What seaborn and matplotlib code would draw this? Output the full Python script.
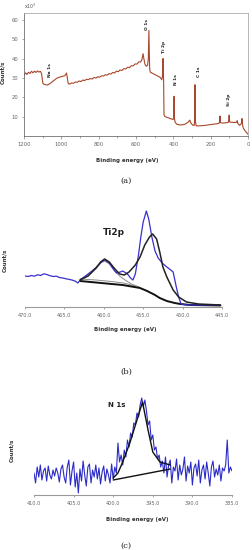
import numpy as np
import pandas as pd
import seaborn as sns
import matplotlib.pyplot as plt
from matplotlib.ticker import MultipleLocator

# (a) survey spectrum, binding energy (eV) vs counts (x10^3)
survey_be = [1200, 1192, 1184, 1176, 1168, 1160, 1152, 1144, 1136, 1128, 1120, 1112, 1106,
             1102, 1099, 1095, 1085, 1075, 1065, 1055, 1045, 1035, 1025, 1015, 1005, 995, 985,
             978, 972, 968, 963, 955, 945, 935, 925, 915, 905, 895, 885, 875, 865, 855, 845,
             835, 825, 815, 805, 795, 785, 775, 765, 755, 745, 735, 725, 715, 705, 695, 685,
             675, 665, 655, 645, 635, 625, 615, 605, 595, 585, 575, 568, 565, 562, 558, 552,
             545, 538, 534, 531, 529, 527, 524, 515, 505, 495, 485, 475, 468, 462, 458, 455,
             452, 450, 445, 440, 430, 420, 410, 402, 398, 396, 394, 390, 380, 370, 360, 350,
             340, 330, 320, 312, 305, 295, 288, 286, 284, 282, 278, 270, 250, 230, 210, 190,
             170, 155, 152, 150, 148, 140, 120, 106, 103, 101, 98, 90, 75, 62, 58, 55, 45, 35,
             32, 30, 25, 18, 10, 5, 2]
survey_counts = [31.5, 32.6, 31.8, 32.9, 32.3, 33.4, 32.6, 33.5, 32.8, 33.6, 33.0, 33.4, 32.2,
                 29.5, 27.3, 26.8, 26.5, 26.3, 26.8, 27.5, 28.3, 29, 29.8, 30.2, 30.5, 30.8,
                 31, 31.5, 32.5, 30, 27, 26.8, 27.4, 27.2, 27.9, 27.7, 28.4, 28.1, 28.9, 28.6,
                 29.3, 29.1, 29.7, 29.4, 30.2, 29.9, 30.6, 30.3, 31.1, 30.9, 31.6, 31.4, 32.2,
                 31.9, 32.8, 32.5, 33.5, 33.2, 34.1, 33.8, 34.8, 34.6, 35.5, 35.3, 36.3, 36.2,
                 37.2, 37.1, 38.3, 38.2, 39.6, 41, 42.5, 40, 37, 36, 36.5, 40, 54.5, 45, 35, 33,
                 32.5, 32, 31.5, 31, 30.5, 30, 29, 31, 40, 28, 11, 10, 9.8, 9.5, 9.2, 8.8, 8.5,
                 9, 20.5, 9, 7, 6, 5.8, 5.7, 5.8, 6, 6.5, 7.2, 8.2, 6.5, 5.5, 5.5, 8, 26.5, 8,
                 5.3, 5.2, 5.3, 5.5, 5.8, 6, 6.3, 6.5, 7.5, 10.3, 7, 6.7, 6.8, 7, 8.5, 10.8,
                 7.2, 7.1, 7, 7, 8, 6.5, 5.5, 6.5, 9, 6, 4, 3, 2, 1.5, 1]
peak_names = ["Na 1s", "O 1s", "Ti 2p", "N 1s", "C 1s", "Si 2p"]
peak_be = [1061, 539, 450, 387, 262, 102]
peak_y = [34, 57.5, 46, 29, 33, 18.6]

# (b) Ti2p high-resolution spectrum
ti_be = [470.0, 469.6, 469.2, 468.8, 468.4, 468.0, 467.6, 467.2, 466.8, 466.4, 466.0, 465.6,
         465.2, 464.8, 464.4, 464.0, 463.6, 463.3, 463.0, 462.5, 462.0, 461.5, 460.9, 460.3,
         459.9, 459.3, 458.8, 458.4, 457.9, 457.6, 457.0, 456.6, 456.3, 456.0, 455.6, 455.3,
         455.0, 454.6, 454.3, 453.9, 453.5, 453.1, 452.6, 452.0, 451.5, 451.2, 450.8, 450.5,
         450.2, 449.5, 447.0, 445.2]
ti_counts = [31, 30.5, 31.5, 30.8, 32.2, 31.6, 33.2, 32.4, 31.2, 30.5, 30.8, 29.4, 29.0, 28.2,
             27.6, 26.9, 25.8, 24, 27, 30, 33, 36, 40, 45, 47, 44, 38, 34, 35, 36, 33, 29, 27,
             33, 52, 70, 85, 96, 88, 70, 56, 49, 44, 40, 37, 35, 20, 10, 3, 2, 2, 2]
ti_fit_be = [463.0, 462.0, 461.0, 460.4, 459.9, 459.3, 458.7, 458.0, 457.4, 456.8, 456.0,
             455.4, 454.8, 454.2, 453.8, 453.3, 452.9, 452.5, 452.0, 451.2, 450.5, 449.5,
             448.0, 445.2]
ti_fit = [27, 31, 39, 45, 48, 45, 39, 33, 32, 35, 42, 50, 62, 70, 73, 68, 55, 40, 30, 17, 10,
          5, 3, 2]
ti_bg_be = [463.0, 461.0, 459.0, 457.6, 456.5, 455.4, 454.5, 453.5, 452.9, 452.0, 451.0,
            450.3, 449.0, 445.2]
ti_bg = [26, 24.5, 23, 22, 20.5, 19, 16, 12, 9, 6, 4, 3, 2, 1.5]
ti_comp_be = [463.0, 462.0, 461.0, 460.4, 459.9, 459.3, 458.6, 458.0, 457.3, 456.5, 455.5]
ti_comp = [28, 31, 38, 44, 46, 43, 36, 31, 27, 23, 20]
ti_bg2_be = [463.0, 461.0, 459.0, 457.5, 456.0]
ti_bg2 = [28, 27, 25.5, 24, 21]

# (c) N 1s high-resolution spectrum, 0.2 eV steps from 410.0 to 385.0
n_start, n_step = 410.0, 0.2
n_counts = [22, 12, 28, 18, 30, 15, 24, 27, 14, 29, 20, 16, 25, 19, 27, 22, 13, 26, 30, 18,
            12, 28, 35, 10, 24, 33, 8, 22, 2, 26, 14, 34, 20, 9, 28, 31, 12, 25, 18, 30, 16,
            27, 11, 23, 29, 14, 26, 20, 12, 31, 16, 28, 22, 52, 33, 40, 30, 45, 38, 55, 48,
            62, 58, 72, 70, 82, 78, 90, 97, 88, 95, 84, 70, 74, 55, 60, 45, 48, 36, 40, 28,
            34, 22, 38, 18, 30, 35, 12, 28, 24, 36, 15, 30, 20, 26, 38, 14, 29, 22, 33, 10,
            27, 31, 19, 35, 12, 25, 30, 16, 33, 22, 9, 28, 34, 18, 26, 20, 30, 14, 27, 24,
            30, 55, 22, 28, 24]
n_fit_be = [400.0, 399.4, 398.8, 397.9, 397.0, 396.3, 395.6, 395.0, 394.1, 392.8]
n_fit = [17, 22, 33, 52, 75, 93, 65, 43, 33, 30]
n_bg_be = [400.0, 392.8]
n_bg = [15, 26]

n_be = np.round(n_start - n_step * np.arange(len(n_counts)), 1)

sns.set_style("white")
plt.rcParams["font.family"] = ["DejaVu Sans"]

W, H = 252, 550
fig = plt.figure(figsize=(W / 100, H / 100), dpi=100)


def px_axes(left, top, right, bottom):
    return fig.add_axes([left / W, 1 - bottom / H, (right - left) / W, (bottom - top) / H])


tick_col = "#666666"
spine_col = "#9a9a9a"

# ---- (a) survey
ax = px_axes(24, 13, 248, 136)
sns.lineplot(x=survey_be, y=survey_counts, ax=ax, color="#a8472c", lw=0.8)
ax.set_xlim(1200, 0)
ax.set_ylim(0, 63.5)
ax.xaxis.set_major_locator(MultipleLocator(200))
ax.xaxis.set_minor_locator(MultipleLocator(100))
ax.set_yticks([10, 20, 30, 40, 50, 60])
for s in ax.spines.values():
    s.set_color(spine_col)
    s.set_linewidth(0.5)
ax.spines["left"].set_color("#555555")
ax.spines["bottom"].set_color("#555555")
ax.tick_params(axis="both", which="both", labelsize=3.8, colors=tick_col, direction="out",
               length=1.8, width=0.4, pad=2.5, bottom=True, left=True)
ax.tick_params(axis="x", which="minor", length=1.2)
ax.set_xlabel("Binding energy (eV)", fontsize=4, fontweight="bold", color="#333333")
ax.set_ylabel("Count/s", fontsize=4, fontweight="bold", color="#333333")
ax.xaxis.set_label_coords(0.46, -0.18)
ax.yaxis.set_label_coords(-0.085, 0.52)
for name, xb, yb in zip(peak_names, peak_be, peak_y):
    ax.text(xb, yb, name, rotation=90, fontsize=3.2, fontweight="bold", color="#222222",
            ha="center", va="center")
fig.text(30 / W, 1 - 6 / H, "x10$^3$", fontsize=3.3, color="#555555", ha="center", va="center")
fig.text(126 / W, 1 - 181 / H, "(a)", fontsize=6, family="DejaVu Serif", ha="center", va="center")

# ---- (b) Ti2p
ax = px_axes(25, 200, 222, 307)
sns.lineplot(x=ti_bg2_be, y=ti_bg2, ax=ax, color="#8c8c8c", lw=0.7)
sns.lineplot(x=ti_comp_be, y=ti_comp, ax=ax, color="#8c8c8c", lw=0.7)
sns.lineplot(x=ti_bg_be, y=ti_bg, ax=ax, color="#111111", lw=1.4)
sns.lineplot(x=ti_be, y=ti_counts, ax=ax, color="#3a2fd0", lw=0.9)
sns.lineplot(x=ti_fit_be, y=ti_fit, ax=ax, color="#222222", lw=1.1)
ax.set_xlim(470, 445)
ax.set_ylim(0, 107)
ax.set_xticks([470, 465, 460, 455, 450, 445])
ax.set_xticklabels(["470.0", "465.0", "460.0", "455.0", "450.0", "445.0"])
ax.set_yticks([])
for side in ["top", "right", "left"]:
    ax.spines[side].set_visible(False)
ax.spines["bottom"].set_color(spine_col)
ax.spines["bottom"].set_linewidth(0.8)
ax.tick_params(axis="x", labelsize=3.6, colors=tick_col, direction="out", length=1.5,
               width=0.4, pad=2.5, bottom=True)
ax.set_xlabel("Binding energy (eV)", fontsize=4, fontweight="bold", color="#333333")
ax.set_ylabel("Count/s", fontsize=4, fontweight="bold", color="#333333")
ax.xaxis.set_label_coords(0.51, -0.19)
ax.yaxis.set_label_coords(-0.09, 0.44)
ax.text(0.45, 0.70, "Ti2p", transform=ax.transAxes, fontsize=6.5, fontweight="bold",
        ha="center", va="center", color="#222222")
fig.text(126 / W, 1 - 372 / H, "(b)", fontsize=6, family="DejaVu Serif", ha="center", va="center")

# ---- (c) N 1s
ax = px_axes(34, 395, 232, 495)
sns.lineplot(x=n_be, y=n_counts, ax=ax, color="#2b2bc8", lw=0.8)
sns.lineplot(x=n_bg_be, y=n_bg, ax=ax, color="#111111", lw=1.0)
sns.lineplot(x=n_fit_be, y=n_fit, ax=ax, color="#111111", lw=1.0)
ax.set_xlim(410, 385)
ax.set_ylim(0, 100)
ax.set_xticks([410, 405, 400, 395, 390, 385])
ax.set_xticklabels(["410.0", "405.0", "400.0", "395.0", "390.0", "385.0"])
ax.set_yticks([])
for side in ["top", "right", "left"]:
    ax.spines[side].set_visible(False)
ax.spines["bottom"].set_color(spine_col)
ax.spines["bottom"].set_linewidth(0.8)
ax.tick_params(axis="x", labelsize=3.6, colors=tick_col, direction="out", length=1.5,
               width=0.4, pad=2.5, bottom=True)
ax.set_xlabel("Binding energy (eV)", fontsize=4, fontweight="bold", color="#333333")
ax.set_ylabel("Count/s", fontsize=4, fontweight="bold", color="#333333")
ax.xaxis.set_label_coords(0.52, -0.22)
ax.yaxis.set_label_coords(-0.10, 0.45)
ax.text(0.42, 0.90, "N 1s", transform=ax.transAxes, fontsize=5, fontweight="bold",
        ha="center", va="center", color="#222222")
fig.text(126 / W, 1 - 546 / H, "(c)", fontsize=6, family="DejaVu Serif", ha="center", va="center")

fig.savefig("out.png", dpi=100, facecolor="white")
